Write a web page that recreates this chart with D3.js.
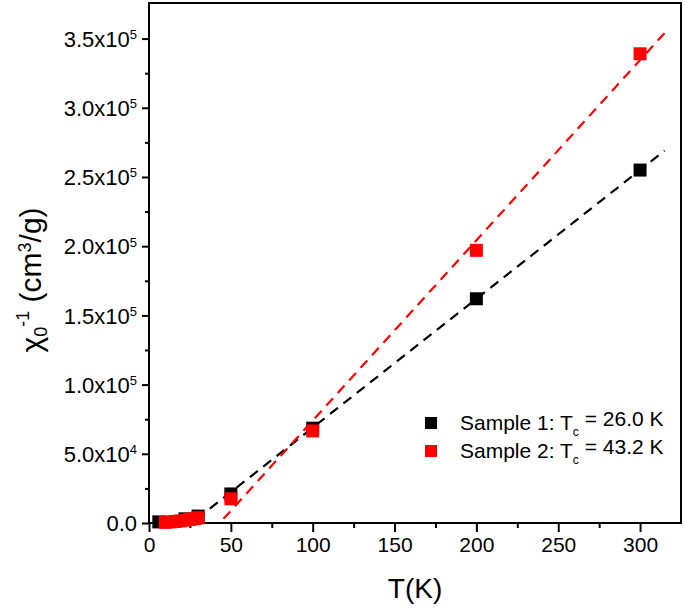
<!DOCTYPE html>
<html>
<head>
<meta charset="utf-8">
<script src="https://cdn.jsdelivr.net/npm/d3@7"></script>
<style>
  body { margin: 0; background: #fff; }
  svg { display: block; font-family: "Liberation Sans", Arial, sans-serif; }
</style>
</head>
<body>
<svg id="chart" width="685" height="611"></svg>
<script>
// ---- data ----
const seriesNames = ["Sample 1", "Sample 2"];
const tcLabels = ["26.0", "43.2"];
const sample1T = [6, 22, 30, 50, 100, 200, 300];
const sample1Y = [800, 3000, 5000, 21000, 68500, 162000, 255000];
const sample2T = [10, 13, 16, 19, 22, 25, 28, 30, 50, 100, 200, 300];
const sample2Y = [500, 800, 1100, 1500, 2000, 2600, 3200, 3800, 17500, 66500, 197000, 339000];
const fit1T = [29, 315];
const fit1Y = [2800, 269000];
const fit2T = [45.5, 315];
const fit2Y = [3000, 354000];
const xTicks = [0, 50, 100, 150, 200, 250, 300];
const yTicks = [0, 50000, 100000, 150000, 200000, 250000, 300000, 350000];
const colors = ["#000000", "#ff0000"];

// ---- layout ----
const svg = d3.select("#chart");
const mLeft = 149, mRight = 681, mTop = 3, mBottom = 523;
const x = d3.scaleLinear().domain([0, 325]).range([mLeft, mRight]);
const y = d3.scaleLinear().domain([0, 375700]).range([mBottom, mTop]);

// frame
svg.append("rect").attr("x", mLeft).attr("y", mTop)
  .attr("width", mRight - mLeft).attr("height", mBottom - mTop)
  .attr("fill", "none").attr("stroke", "#000").attr("stroke-width", 2);

// x axis
const xAxis = d3.axisBottom(x).tickValues(xTicks).tickSize(9).tickPadding(5).tickFormat(d3.format("d"));
const gx = svg.append("g").attr("transform", `translate(0,${mBottom})`).call(xAxis);
gx.select(".domain").remove();
gx.selectAll("line").attr("stroke-width", 2);
gx.selectAll("text").attr("font-size", 21).attr("fill", "#000").attr("font-family", "Liberation Sans, Arial, sans-serif");
const xMinor = d3.axisBottom(x).tickValues(d3.range(25, 325, 50)).tickSize(5).tickFormat("");
const gxm = svg.append("g").attr("transform", `translate(0,${mBottom})`).call(xMinor);
gxm.select(".domain").remove();
gxm.selectAll("line").attr("stroke-width", 2);

// y axis
const yAxis = d3.axisLeft(y).tickValues(yTicks).tickSize(7).tickPadding(4).tickFormat("");
const gy = svg.append("g").attr("transform", `translate(${mLeft},0)`).call(yAxis);
gy.select(".domain").remove();
gy.selectAll("line").attr("stroke-width", 2);
const yMinor = d3.axisLeft(y).tickValues(d3.range(25000, 375000, 50000)).tickSize(4).tickFormat("");
const gym = svg.append("g").attr("transform", `translate(${mLeft},0)`).call(yMinor);
gym.select(".domain").remove();
gym.selectAll("line").attr("stroke-width", 2);

// y tick labels with superscripts
gy.selectAll(".tick").each(function(d) {
  const t = d3.select(this).append("text")
    .attr("x", -12).attr("dy", "0.35em").attr("text-anchor", "end")
    .attr("font-size", 22).attr("fill", "#000");
  if (d === 0) { t.text("0.0"); return; }
  const e = Math.floor(Math.log10(d));
  const m = d / Math.pow(10, e);
  t.append("tspan").text(m.toFixed(1) + "x10");
  t.append("tspan").attr("dy", "-0.6em").attr("font-size", 13).text(e);
});

// fit lines
const line = d3.line().x(d => x(d[0])).y(d => y(d[1]));
[[fit1T, fit1Y], [fit2T, fit2Y]].forEach((f, i) => {
  svg.append("path").datum(f[0].map((t, j) => [t, f[1][j]]))
    .attr("d", line).attr("fill", "none")
    .attr("stroke", colors[i]).attr("stroke-width", 2.2)
    .attr("stroke-dasharray", "10,7");
});

// points
const sq = 13;
[[sample1T, sample1Y], [sample2T, sample2Y]].forEach((s, i) => {
  svg.append("g").selectAll("rect").data(s[0].map((t, j) => [t, s[1][j]]))
    .join("rect")
    .attr("x", d => x(d[0]) - sq / 2).attr("y", d => y(d[1]) - sq / 2)
    .attr("width", sq).attr("height", sq).attr("fill", colors[i]);
});

// legend
const lg = svg.append("g");
seriesNames.forEach((n, i) => {
  const cy = 423 + i * 28;
  lg.append("rect").attr("x", 425).attr("y", cy - 6).attr("width", 12).attr("height", 12).attr("fill", colors[i]);
  const t = lg.append("text").attr("x", 460).attr("y", cy).attr("dy", "0.35em")
    .attr("font-size", 21).attr("fill", "#000");
  t.append("tspan").text(n + ": T");
  t.append("tspan").attr("dy", "0.45em").attr("font-size", 12).text("c");
  t.append("tspan").attr("dy", "-0.45em").attr("font-size", 21).text(" = " + tcLabels[i] + " K");
});

// axis titles
svg.append("text").attr("x", (mLeft + mRight) / 2).attr("y", 598)
  .attr("text-anchor", "middle").attr("font-size", 28).attr("fill", "#000").text("T(K)");

const yt = svg.append("text").attr("transform", "translate(42,280) rotate(-90)")
  .attr("text-anchor", "middle").attr("font-size", 30).attr("fill", "#000");
yt.append("tspan").text("χ");
yt.append("tspan").attr("dy", "0.3em").attr("font-size", 18).text("0");
yt.append("tspan").attr("dy", "-1.0em").attr("font-size", 18).text("-1");
yt.append("tspan").attr("dy", "0.4em").attr("font-size", 30).text(" (cm");
yt.append("tspan").attr("dy", "-0.6em").attr("font-size", 18).text("3");
yt.append("tspan").attr("dy", "0.36em").attr("font-size", 30).text("/g)");
</script>
</body>
</html>
